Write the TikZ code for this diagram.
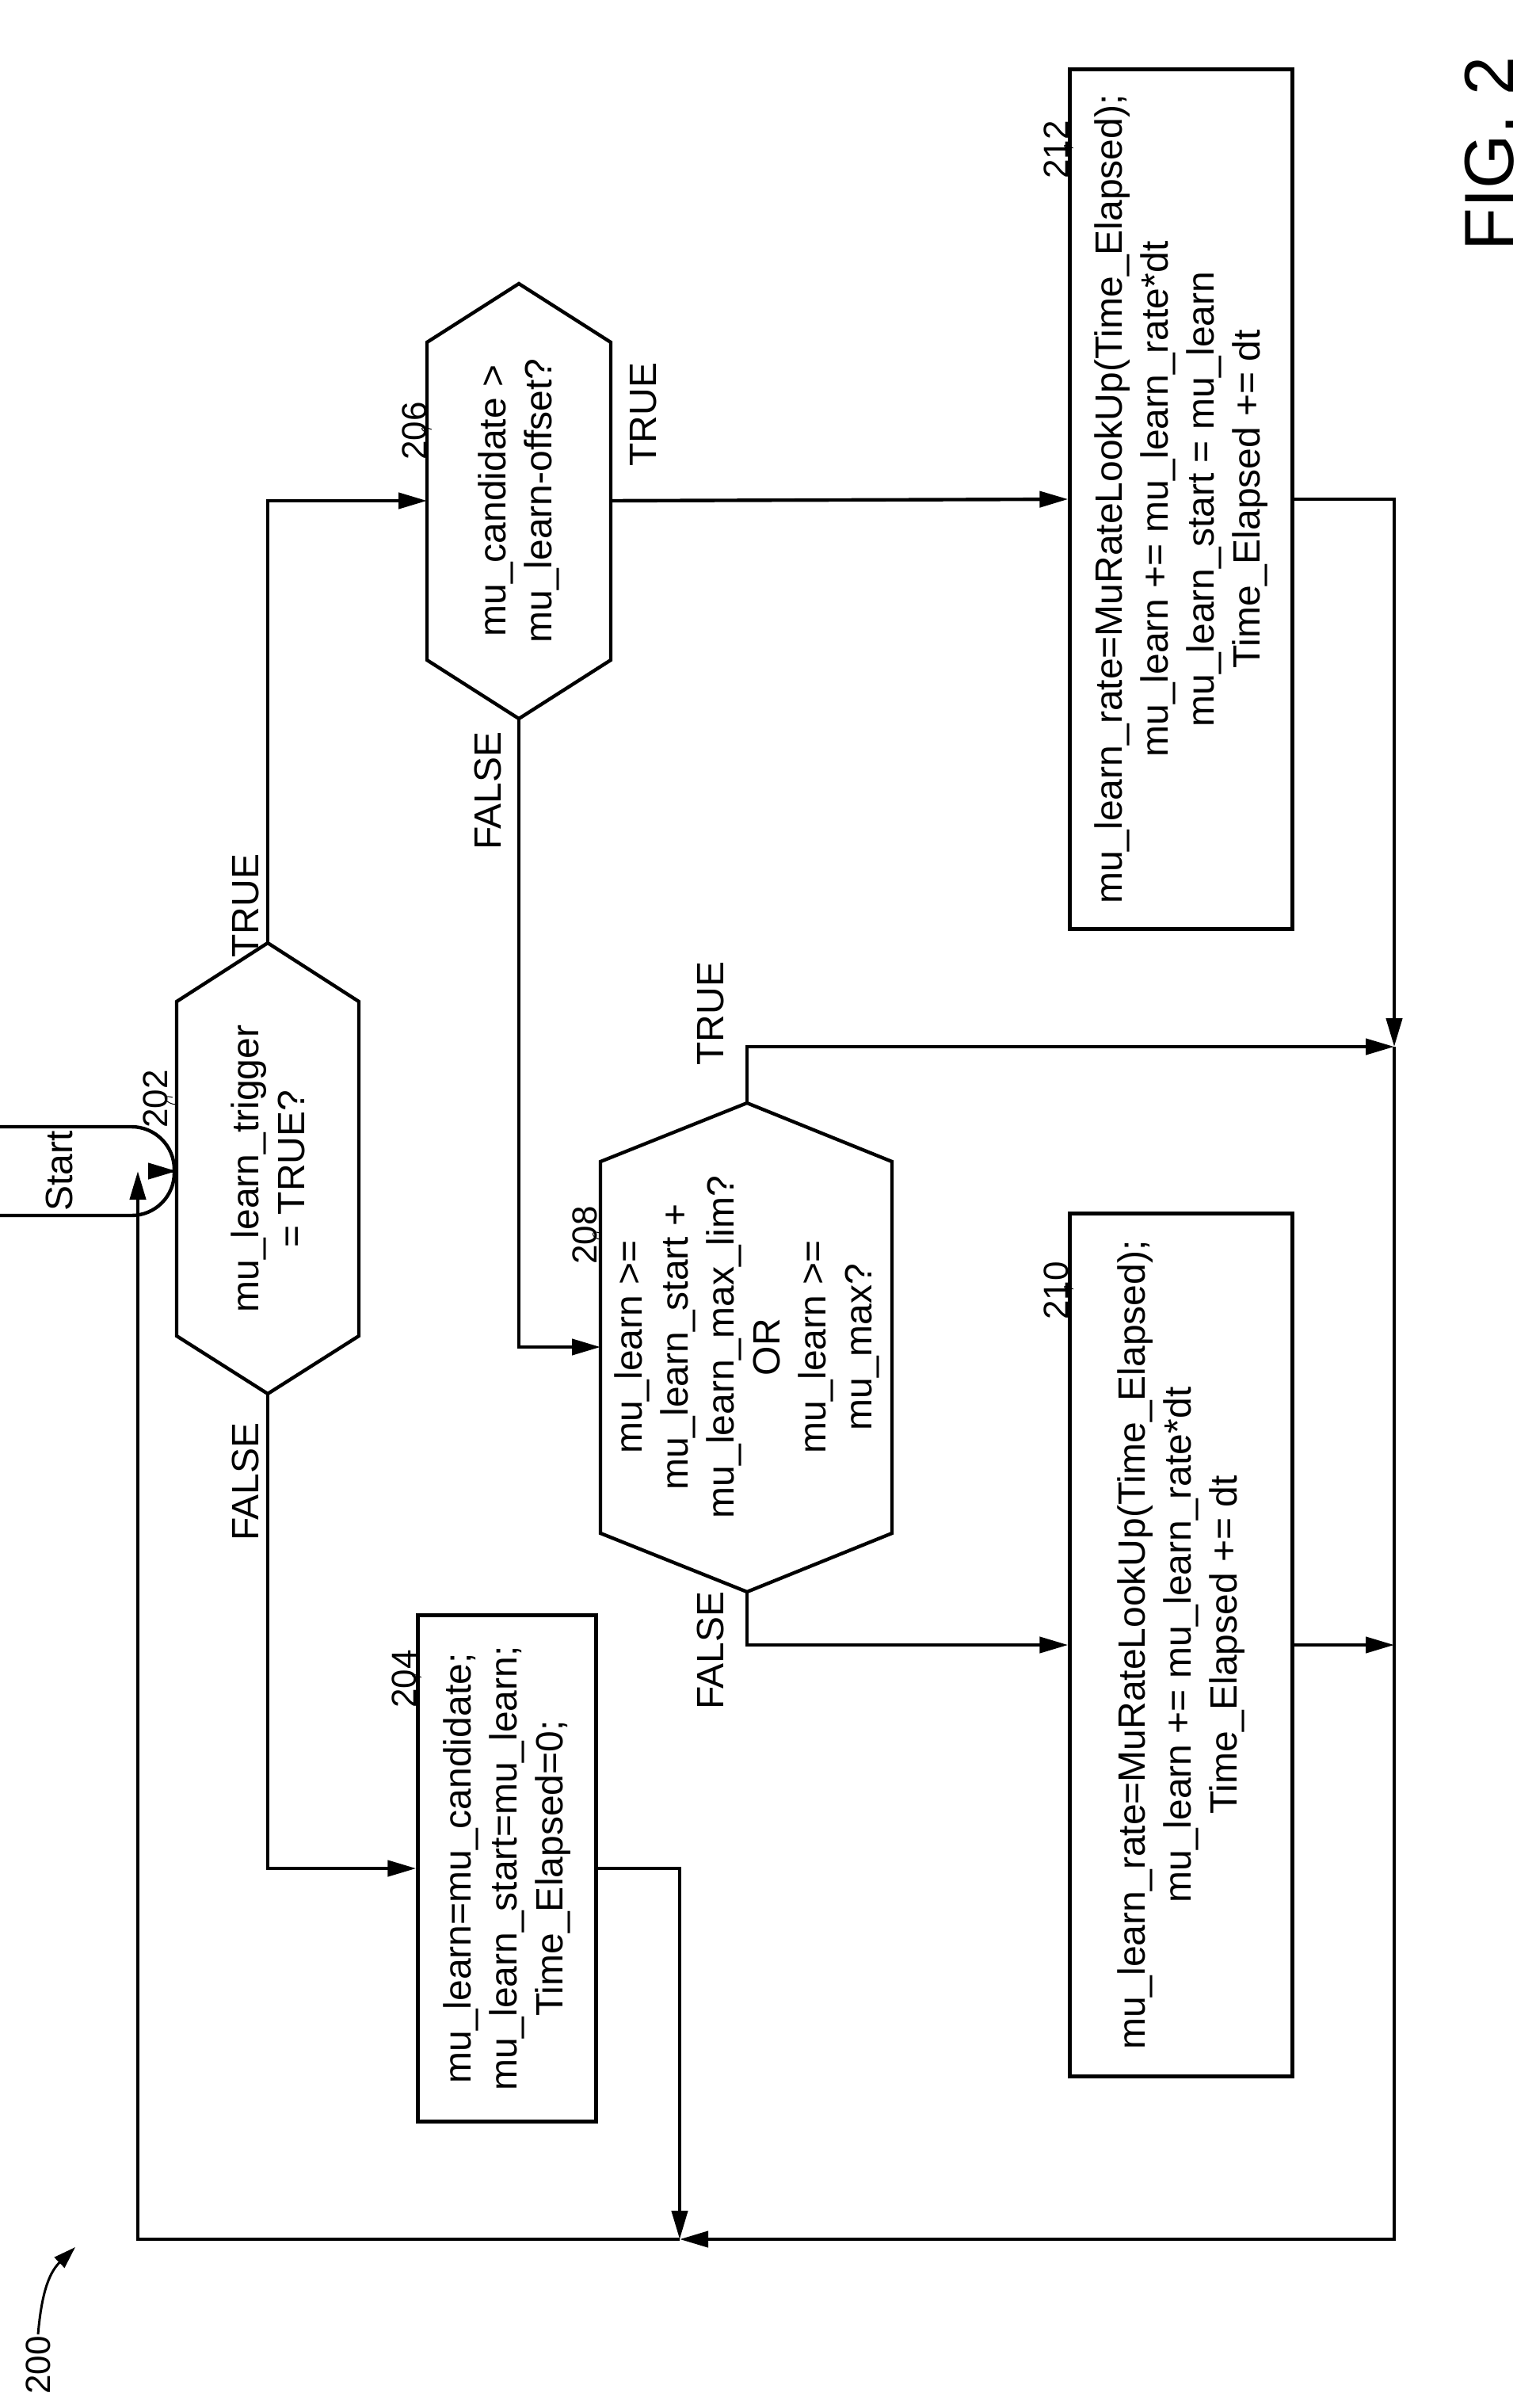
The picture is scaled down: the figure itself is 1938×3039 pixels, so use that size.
\documentclass[tikz,border=0pt]{standalone}
\usepackage{fontspec}
\setmainfont{Liberation Sans}
\usetikzlibrary{arrows.meta}
\begin{document}
\begin{tikzpicture}[x=0.5pt,y=-0.5pt,
  line width=2.2pt,
  txt/.style={rotate=90,align=center,font=\fontsize{24}{29}\selectfont,inner sep=0pt},
  lbl/.style={rotate=90,font=\fontsize{24}{29}\selectfont,inner sep=0pt},
  ref/.style={rotate=90,font=\fontsize{22}{26}\selectfont,inner sep=0pt},
  box/.style={draw,txt,inner sep=0pt},
  arr/.style={-{Triangle[length=18pt,width=10pt]}},
  leader/.style={line width=0.5pt}]
\useasboundingbox (0,0) rectangle (1938,3039);
% Start
\node[draw,rounded corners=27pt,minimum width=56pt,minimum height=145pt,txt] (start) at (75,1478) {Start};
% hexagons (outline)
\draw (223,1264)--(338,1190)--(453,1264)--(453,1686)--(338,1759)--(223,1686)--cycle;
\node[txt] (d202) at (338,1475) {mu\_learn\_trigger\\= TRUE?};
\draw (539,432)--(655,358)--(771,432)--(771,833)--(655,907)--(539,833)--cycle;
\node[txt] (d206) at (655,632) {mu\_candidate >\\mu\_learn-offset?};
\draw (758,1466)--(943,1392)--(1126,1466)--(1126,1935)--(943,2009)--(758,1935)--cycle;
\node[txt] (d208) at (943,1700) {mu\_learn >=\\mu\_learn\_start +\\mu\_learn\_max\_lim?\\OR\\mu\_learn >=\\mu\_max?};
\coordinate (h202t) at (338,1190); \coordinate (h202b) at (338,1759); \coordinate (h202l) at (223,1478);
\coordinate (h206t) at (655,358); \coordinate (h206b) at (655,907); \coordinate (h206l) at (539,632); \coordinate (h206r) at (771,632);
\coordinate (h208t) at (943,1392); \coordinate (h208b) at (943,2009); \coordinate (h208l) at (758,1700);
% boxes
\node[box,minimum width=319.5pt,minimum height=112.5pt] (b204) at (640,2358) {mu\_learn=mu\_candidate;\\mu\_learn\_start=mu\_learn;\\Time\_Elapsed=0;};
\node[box,minimum width=544.5pt,minimum height=140.5pt] (b210) at (1491,2076) {mu\_learn\_rate=MuRateLookUp(Time\_Elapsed);\\mu\_learn += mu\_learn\_rate*dt\\Time\_Elapsed += dt};
\node[box,minimum width=542.5pt,minimum height=140.5pt] (b212) at (1491,630) {mu\_learn\_rate=MuRateLookUp(Time\_Elapsed);\\mu\_learn += mu\_learn\_rate*dt\\mu\_learn\_start = mu\_learn\\Time\_Elapsed += dt};
% junctions
\coordinate (jR1) at (1760,1321);
\coordinate (jR2) at (1760,2076);
\coordinate (jB) at (858,2826);
\coordinate (jBL) at (174,2826);
\coordinate (jL) at (174,1478);
% connectors
\draw[arr] (start.south) -- (h202l);
\draw[arr] (h202t) |- (h206l);
\draw[arr] (h202b) |- (b204.north);
\draw[arr] (h206r) -- (b212.north);
\draw[arr] (h206b) |- (h208l);
\draw[arr] (h208t) |- (jR1);
\draw[arr] (h208b) |- (b210.north);
\draw[arr] (b210.south) -- (jR2);
\draw[arr] (b212.south) -| (jR1);
\draw[arr] (jR1) -- (1760,2826) -- (jB);
\draw[arr] (b204.south) -| (jB);
\draw[arr] (jB) -- (jBL) -- (jL);
% branch labels
\node[lbl] at (310,1143) {TRUE};
\node[lbl] at (310,1870) {FALSE};
\node[lbl] at (812,523) {TRUE};
\node[lbl] at (616,998) {FALSE};
\node[lbl] at (897,1279) {TRUE};
\node[lbl] at (897,2083) {FALSE};
% reference numerals
\node[ref,anchor=east] (r202) at (196,1348) {202};
\draw[leader] (r202.south) ++(4,-2) .. controls (200,1380) and (210,1394) .. (223,1394);
\node[ref,anchor=east] (r206) at (523,505) {206};
\draw[leader] (r206.south) ++(4,-2) .. controls (527,535) and (532,545) .. (539,545);
\node[ref,anchor=east] (r208) at (738,1520) {208};
\draw[leader] (r208.south) ++(4,-2) .. controls (742,1550) and (748,1564) .. (758,1564);
\node[ref,anchor=east] (r204) at (510,2080) {204};
\draw[leader] (r204.south) ++(4,-2) .. controls (515,2108) and (520,2118) .. (527,2118);
\node[ref,anchor=east] (r210) at (1333,1590) {210};
\draw[leader] (r210.south) ++(4,-2) .. controls (1338,1618) and (1343,1628) .. (1351,1628);
\node[ref,anchor=east] (r212) at (1333,150) {212};
\draw[leader] (r212.south) ++(4,-2) .. controls (1338,178) and (1343,188) .. (1351,188);
\node[ref] (r200) at (48,2985) {200};
\coordinate (a200) at (95,2836);
\draw[-{Triangle[length=14pt,width=9pt]},line width=1.5pt] (r200.east) .. controls (52,2900) and (60,2870) .. (a200);
\node[rotate=90,font=\fontsize{44}{50}\selectfont,inner sep=0pt] (fig) at (1880,194) {FIG. 2};
\end{tikzpicture}
\end{document}
